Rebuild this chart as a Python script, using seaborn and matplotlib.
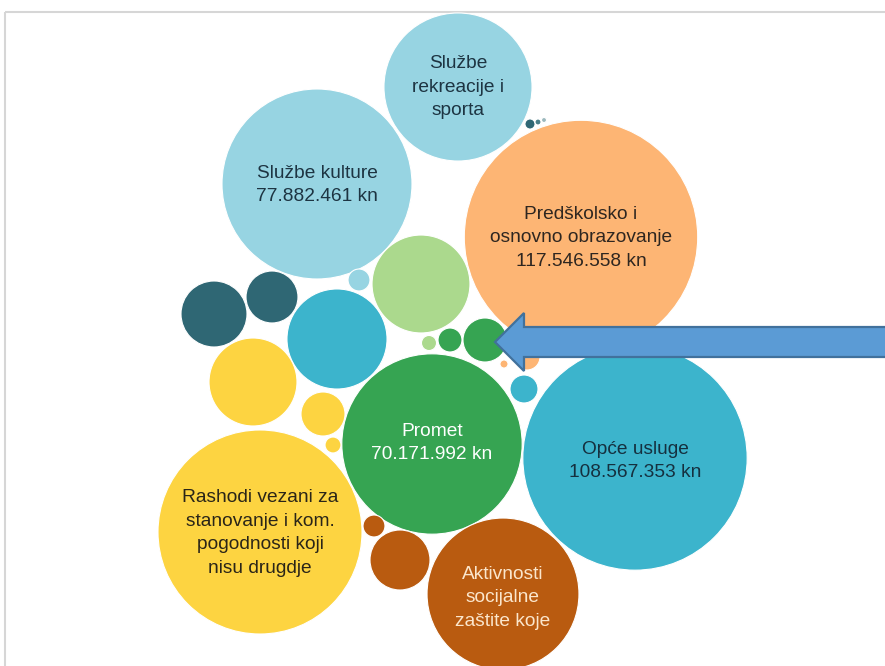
import numpy as np
import pandas as pd
import seaborn as sns
from matplotlib import pyplot as plt
from matplotlib.patches import Rectangle, FancyArrow

# budget lines (kn); bubble area is proportional to the amount
names = [
    'Službe rekreacije i sporta', 'Službe kulture',
    'Predškolsko i osnovno obrazovanje', 'Opće usluge', 'Promet',
    'Rashodi vezani za stanovanje i kom. pogodnosti koji nisu drugdje',
    'Aktivnosti socijalne zaštite koje',
    'zelena 1', 'plava 1', 'tamna 1', 'tamna 2', 'žuta 1', 'žuta 2', 'žuta 3',
    'svijetloplava 1', 'zelena 2', 'zelena 3', 'zelena 4', 'plava 2',
    'narančasta 1', 'narančasta 2', 'smeđa 1', 'smeđa 2',
    'tamna 3', 'tamna 4', 'tamna 5',
]
amounts = [
    47300000, 77882461, 117546558, 108567353, 70171992,
    89800000, 49800000,
    20700000, 21600000, 9400000, 5830000, 16700000, 4180000, 550000,
    1040000, 4180000, 1240000, 490000, 1690000,
    1460000, 140000, 7770000, 1040000,
    220000, 78000, 54000,
]
groups = [
    'rekreacija', 'rekreacija', 'obrazovanje', 'usluge', 'promet',
    'stanovanje', 'socijalna',
    'svijetlozelena', 'usluge', 'tamna', 'tamna', 'stanovanje', 'stanovanje',
    'stanovanje', 'rekreacija', 'promet', 'promet', 'svijetlozelena',
    'usluge', 'obrazovanje', 'obrazovanje', 'socijalna', 'socijalna',
    'tamna', 'tamna2', 'tamna3',
]
labels = [
    'Službe\nrekreacije i\nsporta', 'Službe kulture\n77.882.461 kn',
    'Predškolsko i\nosnovno obrazovanje\n117.546.558 kn',
    'Opće usluge\n108.567.353 kn', 'Promet\n70.171.992 kn',
    'Rashodi vezani za\nstanovanje i kom.\npogodnosti koji\nnisu drugdje',
    'Aktivnosti\nsocijalne\nzaštite koje',
]
label_colors = ['#1d3442', '#1d3442', '#2e2620', '#15303f', '#ffffff',
                '#2a2518', '#fbe6cc']
# small vertical nudge of each label block (px)
label_dy = [0, 1, 1, 3, -1, 1, 4]

# packed layout (centres in pixels of the 885x666 canvas)
pos_x = [458, 317, 581, 635, 432, 260, 503, 421, 337, 214, 272, 253, 323,
         333, 359, 485, 450, 429, 524, 527, 504, 400, 374, 530, 538, 544]
pos_y = [87, 184, 237, 458, 444, 532, 594, 284, 339, 314, 297, 382, 414,
         445, 280, 340, 340, 343, 389, 357, 364, 560, 526, 124, 122, 120]

palette = {
    'rekreacija': '#97d4e2', 'obrazovanje': '#fdb574', 'usluge': '#3cb4cc',
    'promet': '#36a452', 'stanovanje': '#fdd441', 'socijalna': '#b95b10',
    'svijetlozelena': '#abd98d', 'tamna': '#2f6774', 'tamna2': '#4a7f8a',
    'tamna3': '#9bb8bd',
}

KN_PER_PX2 = 8630.0
df = pd.DataFrame({'name': names, 'amount': amounts, 'group': groups,
                   'x': pos_x, 'y': pos_y})
df['r'] = np.sqrt(df['amount'] / KN_PER_PX2)
# marker diameter in points at 100 dpi
df['s'] = (2 * df['r'] * 0.72) ** 2

fig = plt.figure(figsize=(8.85, 6.66), dpi=100)
ax = fig.add_axes([0, 0, 1, 1])

ax.add_patch(Rectangle((5, 12), 1200, 1200, facecolor='none',
                       edgecolor='#d6d6d6', lw=1.5, zorder=0))

smin, smax = df['s'].min(), df['s'].max()
sns.scatterplot(data=df, x='x', y='y', hue='group', palette=palette,
                size='s', sizes=(smin, smax), size_norm=(smin, smax),
                legend=False, edgecolor='white', linewidth=0.8, alpha=1,
                ax=ax, zorder=2)
ax.set_xlim(0, 885)
ax.set_ylim(666, 0)
ax.set_axis_off()

for i, text in enumerate(labels):
    ax.text(df['x'][i], df['y'][i] + label_dy[i], text, ha='center',
            va='center', fontsize=13.8,
            family=['Liberation Sans', 'DejaVu Sans'],
            color=label_colors[i], linespacing=1.5, zorder=3)

ax.add_patch(FancyArrow(900, 342, -405, 0, width=30, head_width=58,
                        head_length=29, length_includes_head=True,
                        facecolor='#5b9bd5', edgecolor='#41719c', lw=1.6,
                        zorder=5))

fig.savefig('out.png', dpi=100)
